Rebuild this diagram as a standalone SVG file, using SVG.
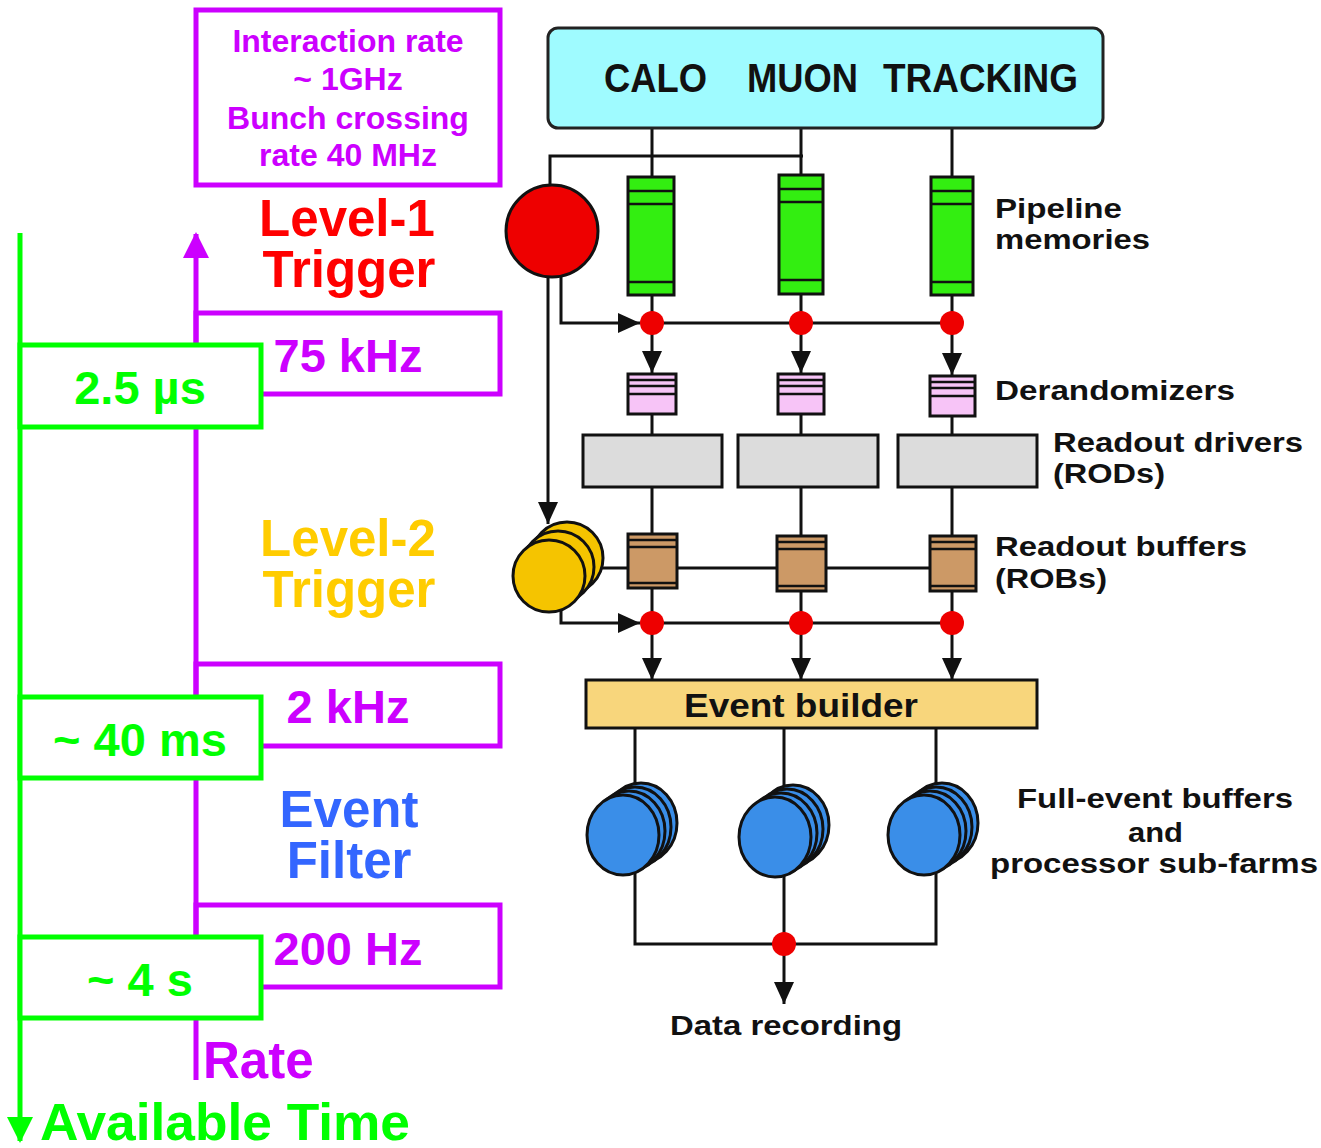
<svg xmlns="http://www.w3.org/2000/svg" width="1321" height="1148" viewBox="0 0 1321 1148">
<style>
.pu{fill:none;stroke:#cc00ff;stroke-width:5}
.gr{fill:#fff;stroke:#00ff00;stroke-width:5}
.t{font-family:"Liberation Sans",Arial,sans-serif;font-weight:bold}
.c{text-anchor:middle}
.ptxt{fill:#cc00ff}
.gtxt{fill:#00ff00}
.ln{fill:none;stroke:#111;stroke-width:3}
.blk{stroke:#111;stroke-width:3}
.lbl{font-family:"Liberation Sans",Arial,sans-serif;font-weight:bold;font-size:28px;fill:#111}
.dot{fill:#ee0000}
.stripe{stroke:#111;stroke-width:2.5}
</style>
<defs>
<marker id="arr" viewBox="0 0 22 20" refX="22" refY="10" markerWidth="22" markerHeight="20" markerUnits="userSpaceOnUse" orient="auto">
<path d="M0 0 L22 10 L0 20 Z" fill="#111"/>
</marker>
<marker id="parr" viewBox="0 0 26 26" refX="24" refY="13" markerWidth="26" markerHeight="26" markerUnits="userSpaceOnUse" orient="auto">
<path d="M0 0 L26 13 L0 26 Z" fill="#cc00ff"/>
</marker>
<marker id="garr" viewBox="0 0 26 26" refX="24" refY="13" markerWidth="26" markerHeight="26" markerUnits="userSpaceOnUse" orient="auto">
<path d="M0 0 L26 13 L0 26 Z" fill="#00ff00"/>
</marker>
<g id="disc-b"><ellipse rx="36" ry="40" fill="#3a8ee8" class="blk"/></g>
</defs>
<rect width="1321" height="1148" fill="#fff"/>

<!-- Left: rate / time scale -->
<g id="rate-axis">
<path d="M196 1080 V234" class="pu" marker-end="url(#parr)"/>
<text x="203" y="1078" class="t ptxt" font-size="51">Rate</text>
</g>
<g id="time-axis">
<path d="M20 233 V1141" fill="none" stroke="#00ff00" stroke-width="5" marker-end="url(#garr)"/>
<text x="40" y="1140" class="t gtxt" font-size="52" textLength="370" lengthAdjust="spacingAndGlyphs">Available Time</text>
</g>
<g id="interaction-box">
<rect x="196" y="10" width="304" height="175" class="pu"/>
<text class="t c ptxt" font-size="32"><tspan x="348" y="52">Interaction rate</tspan><tspan x="348" y="90">~ 1GHz</tspan><tspan x="348" y="129">Bunch crossing</tspan><tspan x="348" y="166">rate 40 MHz</tspan></text>
</g>
<g id="level1-label"><text class="t c" fill="#ff0000" font-size="51"><tspan x="347" y="236">Level-1</tspan><tspan x="349" y="287">Trigger</tspan></text></g>
<g id="rate-75khz"><rect x="196" y="313" width="304" height="81" class="pu"/><text x="348" y="372" class="t c ptxt" font-size="47">75 kHz</text></g>
<g id="time-2-5us"><rect x="20" y="345" width="241" height="82" class="gr"/><text x="140" y="404" class="t c gtxt" font-size="47">2.5 µs</text></g>
<g id="level2-label"><text class="t c" fill="#ffcc00" font-size="51"><tspan x="348" y="556">Level-2</tspan><tspan x="349" y="607">Trigger</tspan></text></g>
<g id="rate-2khz"><rect x="196" y="664" width="304" height="82" class="pu"/><text x="348" y="723" class="t c ptxt" font-size="47">2 kHz</text></g>
<g id="time-40ms"><rect x="20" y="697" width="241" height="81" class="gr"/><text x="140" y="756" class="t c gtxt" font-size="47">~ 40 ms</text></g>
<g id="ef-label"><text class="t c" fill="#3366ff" font-size="51"><tspan x="349" y="827">Event</tspan><tspan x="349" y="878">Filter</tspan></text></g>
<g id="rate-200hz"><rect x="196" y="905" width="304" height="82" class="pu"/><text x="348" y="965" class="t c ptxt" font-size="47">200 Hz</text></g>
<g id="time-4s"><rect x="20" y="937" width="241" height="81" class="gr"/><text x="140" y="996" class="t c gtxt" font-size="47">~ 4 s</text></g>

<!-- Connectors -->
<g id="connectors">
<path class="ln" d="M652 128 V177 M801 128 V174 M952 128 V177"/>
<path class="ln" d="M550 185 V156 H803"/>
<path class="ln" d="M652 296 V323 M801 294 V323 M952 296 V323"/>
<path class="ln" d="M561 277 V323 H640" marker-end="url(#arr)"/>
<path class="ln" d="M652 323 H952"/>
<path class="ln" d="M652 323 V373" marker-end="url(#arr)"/>
<path class="ln" d="M801 323 V373" marker-end="url(#arr)"/>
<path class="ln" d="M952 323 V375" marker-end="url(#arr)"/>
<path class="ln" d="M652 414 V434 M801 414 V434 M952 416 V434"/>
<path class="ln" d="M652 487 V533 M801 487 V535 M952 487 V535"/>
<path class="ln" d="M548 277 V524" marker-end="url(#arr)"/>
<path class="ln" d="M595 568 H930"/>
<path class="ln" d="M652 588 V623 M801 591 V623 M952 591 V623"/>
<path class="ln" d="M561 605 V623 H640" marker-end="url(#arr)"/>
<path class="ln" d="M652 623 H952"/>
<path class="ln" d="M652 623 V680" marker-end="url(#arr)"/>
<path class="ln" d="M801 623 V680" marker-end="url(#arr)"/>
<path class="ln" d="M952 623 V680" marker-end="url(#arr)"/>
<path class="ln" d="M635 728 V800 M784 728 V800 M936 728 V800"/>
<path class="ln" d="M635 860 V944 H936 V860"/>
<path class="ln" d="M784 870 V1004" marker-end="url(#arr)"/>
</g>

<!-- Nodes -->
<g id="detectors">
<rect x="548" y="28" width="555" height="100" rx="10" fill="#9ffbff" stroke="#222" stroke-width="3"/>
<text class="t" font-size="40" fill="#111"><tspan x="604" y="92" textLength="103" lengthAdjust="spacingAndGlyphs">CALO</tspan><tspan x="747" y="92" textLength="111" lengthAdjust="spacingAndGlyphs">MUON</tspan><tspan x="883" y="92" textLength="195" lengthAdjust="spacingAndGlyphs">TRACKING</tspan></text>
</g>
<g id="level1-processor"><circle cx="552" cy="231" r="46" fill="#ee0000" class="blk"/></g>
<g id="pipeline-1"><rect x="628" y="177" width="46" height="118" fill="#33ee11" class="blk"/><path class="stripe" d="M628 191 H674 M628 204 H674 M628 282 H674"/></g>
<g id="pipeline-2"><rect x="779" y="175" width="44" height="119" fill="#33ee11" class="blk"/><path class="stripe" d="M779 189 H823 M779 202 H823 M779 280 H823"/></g>
<g id="pipeline-3"><rect x="931" y="177" width="42" height="118" fill="#33ee11" class="blk"/><path class="stripe" d="M931 191 H973 M931 204 H973 M931 282 H973"/></g>
<g id="pipeline-label"><text class="lbl"><tspan x="995" y="218" textLength="127" lengthAdjust="spacingAndGlyphs">Pipeline</tspan><tspan x="995" y="249" textLength="155" lengthAdjust="spacingAndGlyphs">memories</tspan></text></g>

<g id="derand-1"><rect x="628" y="374" width="48" height="40" fill="#f7c4f7" class="blk"/><path class="stripe" d="M628 380 H676 M628 386 H676 M628 394 H676"/></g>
<g id="derand-2"><rect x="778" y="374" width="46" height="40" fill="#f7c4f7" class="blk"/><path class="stripe" d="M778 380 H824 M778 386 H824 M778 394 H824"/></g>
<g id="derand-3"><rect x="930" y="376" width="45" height="40" fill="#f7c4f7" class="blk"/><path class="stripe" d="M930 382 H975 M930 388 H975 M930 396 H975"/></g>
<g id="derand-label"><text x="995" y="400" class="lbl" textLength="240" lengthAdjust="spacingAndGlyphs">Derandomizers</text></g>

<g id="rod-1"><rect x="583" y="435" width="139" height="52" fill="#dcdcdc" class="blk"/></g>
<g id="rod-2"><rect x="738" y="435" width="140" height="52" fill="#dcdcdc" class="blk"/></g>
<g id="rod-3"><rect x="898" y="435" width="139" height="52" fill="#dcdcdc" class="blk"/></g>
<g id="rod-label"><text class="lbl"><tspan x="1053" y="452" textLength="250" lengthAdjust="spacingAndGlyphs">Readout drivers</tspan><tspan x="1053" y="483" textLength="112" lengthAdjust="spacingAndGlyphs">(RODs)</tspan></text></g>

<g id="level2-processor">
<circle cx="567" cy="558" r="36" fill="#f5c400" class="blk"/>
<circle cx="558" cy="567" r="36" fill="#f5c400" class="blk"/>
<circle cx="549" cy="576" r="36" fill="#f5c400" class="blk"/>
</g>
<g id="rob-1"><rect x="628" y="534" width="49" height="54" fill="#cc9966" class="blk"/><path class="stripe" d="M628 540 H677 M628 547 H677 M628 583 H677"/></g>
<g id="rob-2"><rect x="777" y="536" width="49" height="55" fill="#cc9966" class="blk"/><path class="stripe" d="M777 542 H826 M777 549 H826 M777 586 H826"/></g>
<g id="rob-3"><rect x="930" y="536" width="46" height="55" fill="#cc9966" class="blk"/><path class="stripe" d="M930 542 H976 M930 549 H976 M930 586 H976"/></g>
<g id="rob-label"><text class="lbl"><tspan x="995" y="556" textLength="252" lengthAdjust="spacingAndGlyphs">Readout buffers</tspan><tspan x="995" y="588" textLength="112" lengthAdjust="spacingAndGlyphs">(ROBs)</tspan></text></g>

<g id="junctions">
<circle cx="652" cy="323" r="12" class="dot"/><circle cx="801" cy="323" r="12" class="dot"/><circle cx="952" cy="323" r="12" class="dot"/>
<circle cx="652" cy="623" r="12" class="dot"/><circle cx="801" cy="623" r="12" class="dot"/><circle cx="952" cy="623" r="12" class="dot"/>
<circle cx="784" cy="944" r="12" class="dot"/>
</g>

<g id="event-builder">
<rect x="586" y="680" width="451" height="48" fill="#f8d67c" class="blk"/>
<text x="684" y="717" class="t" font-size="34" fill="#111" textLength="234" lengthAdjust="spacingAndGlyphs">Event builder</text>
</g>

<g id="farm-1">
<use href="#disc-b" x="641" y="823"/><use href="#disc-b" x="635" y="827"/><use href="#disc-b" x="629" y="831"/><use href="#disc-b" x="623" y="835"/>
</g>
<g id="farm-2">
<use href="#disc-b" x="793" y="825"/><use href="#disc-b" x="787" y="829"/><use href="#disc-b" x="781" y="833"/><use href="#disc-b" x="775" y="837"/>
</g>
<g id="farm-3">
<use href="#disc-b" x="942" y="823"/><use href="#disc-b" x="936" y="827"/><use href="#disc-b" x="930" y="831"/><use href="#disc-b" x="924" y="835"/>
</g>
<g id="farm-label"><text class="lbl"><tspan x="1017" y="808" textLength="276" lengthAdjust="spacingAndGlyphs">Full-event buffers</tspan><tspan x="1128" y="842" textLength="55" lengthAdjust="spacingAndGlyphs">and</tspan><tspan x="990" y="873" textLength="328" lengthAdjust="spacingAndGlyphs">processor sub-farms</tspan></text></g>

<g id="data-recording"><text x="670" y="1035" class="lbl" textLength="232" lengthAdjust="spacingAndGlyphs">Data recording</text></g>
</svg>
